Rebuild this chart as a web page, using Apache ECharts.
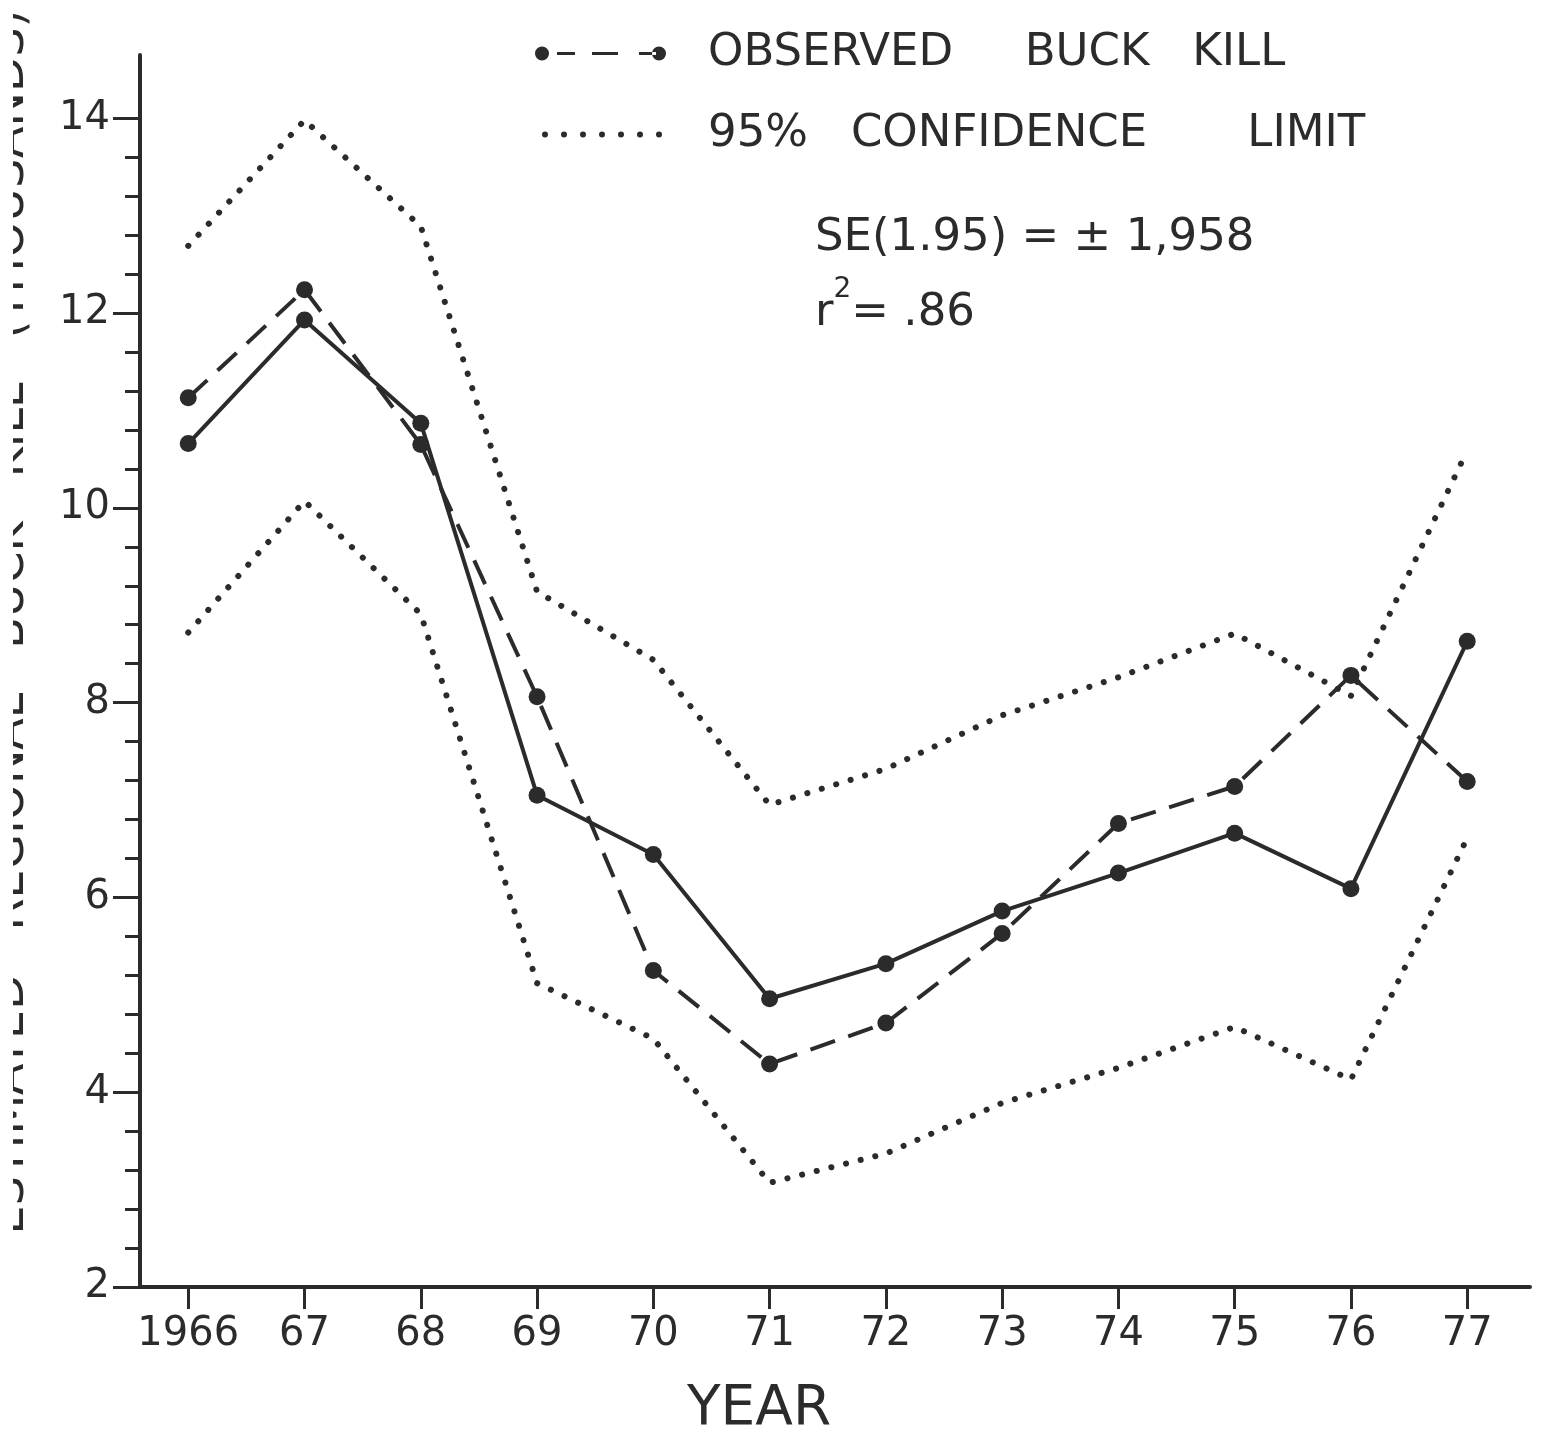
<!DOCTYPE html>
<html>
<head>
<meta charset="utf-8">
<script src="https://cdn.jsdelivr.net/npm/echarts@6/dist/echarts.min.js"></script>
<style>
  html, body { margin: 0; padding: 0; background: #ffffff; }
  #chart { width: 1559px; height: 1440px; }
</style>
</head>
<body>
<div id="chart"></div>
<script>
// ---- data ----
const years = [1966, 1967, 1968, 1969, 1970, 1971, 1972, 1973, 1974, 1975, 1976, 1977];
const xTickLabels = ['1966', '67', '68', '69', '70', '71', '72', '73', '74', '75', '76', '77'];
const observedKill = [11.13, 12.24, 10.65, 8.06, 5.25, 4.29, 4.71, 5.63, 6.76, 7.14, 8.28, 7.19];
const estimatedKill = [10.66, 11.93, 10.87, 7.05, 6.44, 4.96, 5.32, 5.86, 6.25, 6.66, 6.09, 8.63];
const upperLimit = [12.69, 13.98, 12.89, 9.14, 8.44, 6.95, 7.32, 7.87, 8.26, 8.71, 8.07, 10.59];
const lowerLimit = [8.72, 10.07, 8.91, 5.12, 4.55, 3.07, 3.37, 3.89, 4.25, 4.67, 4.13, 6.61];
const yMajorTicks = [2, 4, 6, 8, 10, 12, 14];
const yMinorStep = 0.4;

const obsName = 'OBSERVED     BUCK   KILL';
const ciName = '95%   CONFIDENCE       LIMIT';

const ink = '#2b2b2b';
const font = 'DejaVu Sans';

const yMinorTicks = [];
for (let i = 0; i < yMajorTicks.length - 1; i++) {
  for (let k = 1; k < 5; k++) yMinorTicks.push(+(yMajorTicks[i] + k * yMinorStep).toFixed(2));
}
const pairs = arr => years.map((y, i) => [y, arr[i]]);

const obsIcon = 'path://M0,0M168,14M0,7a7,7 0 1,0 14,0a7,7 0 1,0 -14,0Z' +
  'M22,5.5h18v3h-18Z M57,5.5h26v3h-26Z M104,5.5h17v3h-17Z' +
  'M117,7a7,7 0 1,0 14,0a7,7 0 1,0 -14,0Z';
let ciIcon = 'path://M0,0M168,14';
[10, 29, 48, 67, 86, 105, 124].forEach(c => {
  ciIcon += 'M' + (c - 3) + ',7a3,3 0 1,0 6,0a3,3 0 1,0 -6,0Z';
});

const chart = echarts.init(document.getElementById('chart'));
chart.setOption({
  animation: false,
  backgroundColor: '#ffffff',
  grid: { left: 140, right: 29, top: 55, bottom: 153, containLabel: false },
  legend: {
    orient: 'vertical',
    left: 530,
    top: 26,
    itemGap: 36,
    itemWidth: 168,
    itemHeight: 14,
    selectedMode: false,
    textStyle: { fontSize: 45, fontFamily: font, color: ink },
    itemStyle: { borderWidth: 0 },
    data: [
      { name: obsName, icon: obsIcon },
      { name: ciName, icon: ciIcon }
    ]
  },
  xAxis: {
    type: 'value',
    min: 1965.585,
    max: 1977.54,
    axisLine: { show: true, onZero: false, lineStyle: { color: ink, width: 4 } },
    axisTick: { show: true, customValues: years, length: 22, lineStyle: { color: ink, width: 3 } },
    axisLabel: {
      customValues: years,
      margin: 28,
      fontSize: 40,
      fontFamily: font,
      color: ink,
      formatter: v => xTickLabels[years.indexOf(Math.round(v))]
    },
    splitLine: { show: false }
  },
  yAxis: [
    {
      type: 'value',
      min: 2,
      max: 14.65,
      position: 'left',
      axisLine: { show: true, onZero: false, lineStyle: { color: ink, width: 4 } },
      axisTick: { show: true, customValues: yMajorTicks, length: 27, lineStyle: { color: ink, width: 3 } },
      axisLabel: { customValues: yMajorTicks, margin: 30, fontSize: 40, fontFamily: font, color: ink },
      splitLine: { show: false }
    },
    {
      type: 'value',
      min: 2,
      max: 14.65,
      position: 'left',
      axisLine: { show: false },
      axisTick: { show: true, customValues: yMinorTicks, length: 15, lineStyle: { color: ink, width: 3 } },
      axisLabel: { show: false },
      splitLine: { show: false }
    }
  ],
  series: [
    {
      name: ciName,
      type: 'line',
      data: pairs(upperLimit),
      showSymbol: false,
      color: ink,
      lineStyle: { color: ink, width: 6, type: [0.1, 15], cap: 'round' },
      z: 1
    },
    {
      name: ciName,
      type: 'line',
      data: pairs(lowerLimit),
      showSymbol: false,
      color: ink,
      lineStyle: { color: ink, width: 6, type: [0.1, 15], cap: 'round' },
      z: 1
    },
    {
      name: 'ESTIMATED BUCK KILL',
      type: 'line',
      data: pairs(estimatedKill),
      symbol: 'circle',
      symbolSize: 17,
      color: ink,
      itemStyle: { color: ink },
      lineStyle: { color: ink, width: 4 },
      z: 3
    },
    {
      name: obsName,
      type: 'line',
      data: pairs(observedKill),
      symbol: 'circle',
      symbolSize: 17,
      color: ink,
      itemStyle: { color: ink },
      lineStyle: { color: ink, width: 4, type: [26, 14] },
      z: 3
    }
  ],
  graphic: [
    {
      type: 'text',
      x: 815, y: 238,
      style: { text: 'SE(1.95) = ± 1,958', fontSize: 45, fontFamily: font, fill: ink, verticalAlign: 'middle', align: 'left' }
    },
    {
      type: 'text',
      x: 815, y: 306,
      style: {
        text: '{a|r}{s|2}{a|= .86}',
        fill: ink,
        verticalAlign: 'middle', align: 'left',
        rich: {
          a: { fontSize: 45, fontFamily: font, color: ink, fill: ink, lineHeight: 60, verticalAlign: 'bottom' },
          s: { fontSize: 28, fontFamily: font, color: ink, fill: ink, lineHeight: 60, verticalAlign: 'top' }
        }
      }
    },
    {
      type: 'text',
      x: 687, y: 1410,
      style: { text: 'YEAR', fontSize: 55, fontFamily: font, fill: ink, verticalAlign: 'middle', align: 'left' }
    },
    {
      type: 'text',
      x: 34, y: 622,
      rotation: Math.PI / 2,
      style: {
        text: 'ESTIMATED   REGIONAL   BUCK   KILL   (THOUSANDS)',
        fontSize: 46, fontFamily: font, fill: ink, align: 'center', verticalAlign: 'bottom'
      }
    },
    {
      type: 'rect',
      z: 100,
      shape: { x: 0, y: 0, width: 13, height: 1300 },
      style: { fill: '#ffffff' }
    }
  ]
});
</script>
</body>
</html>
